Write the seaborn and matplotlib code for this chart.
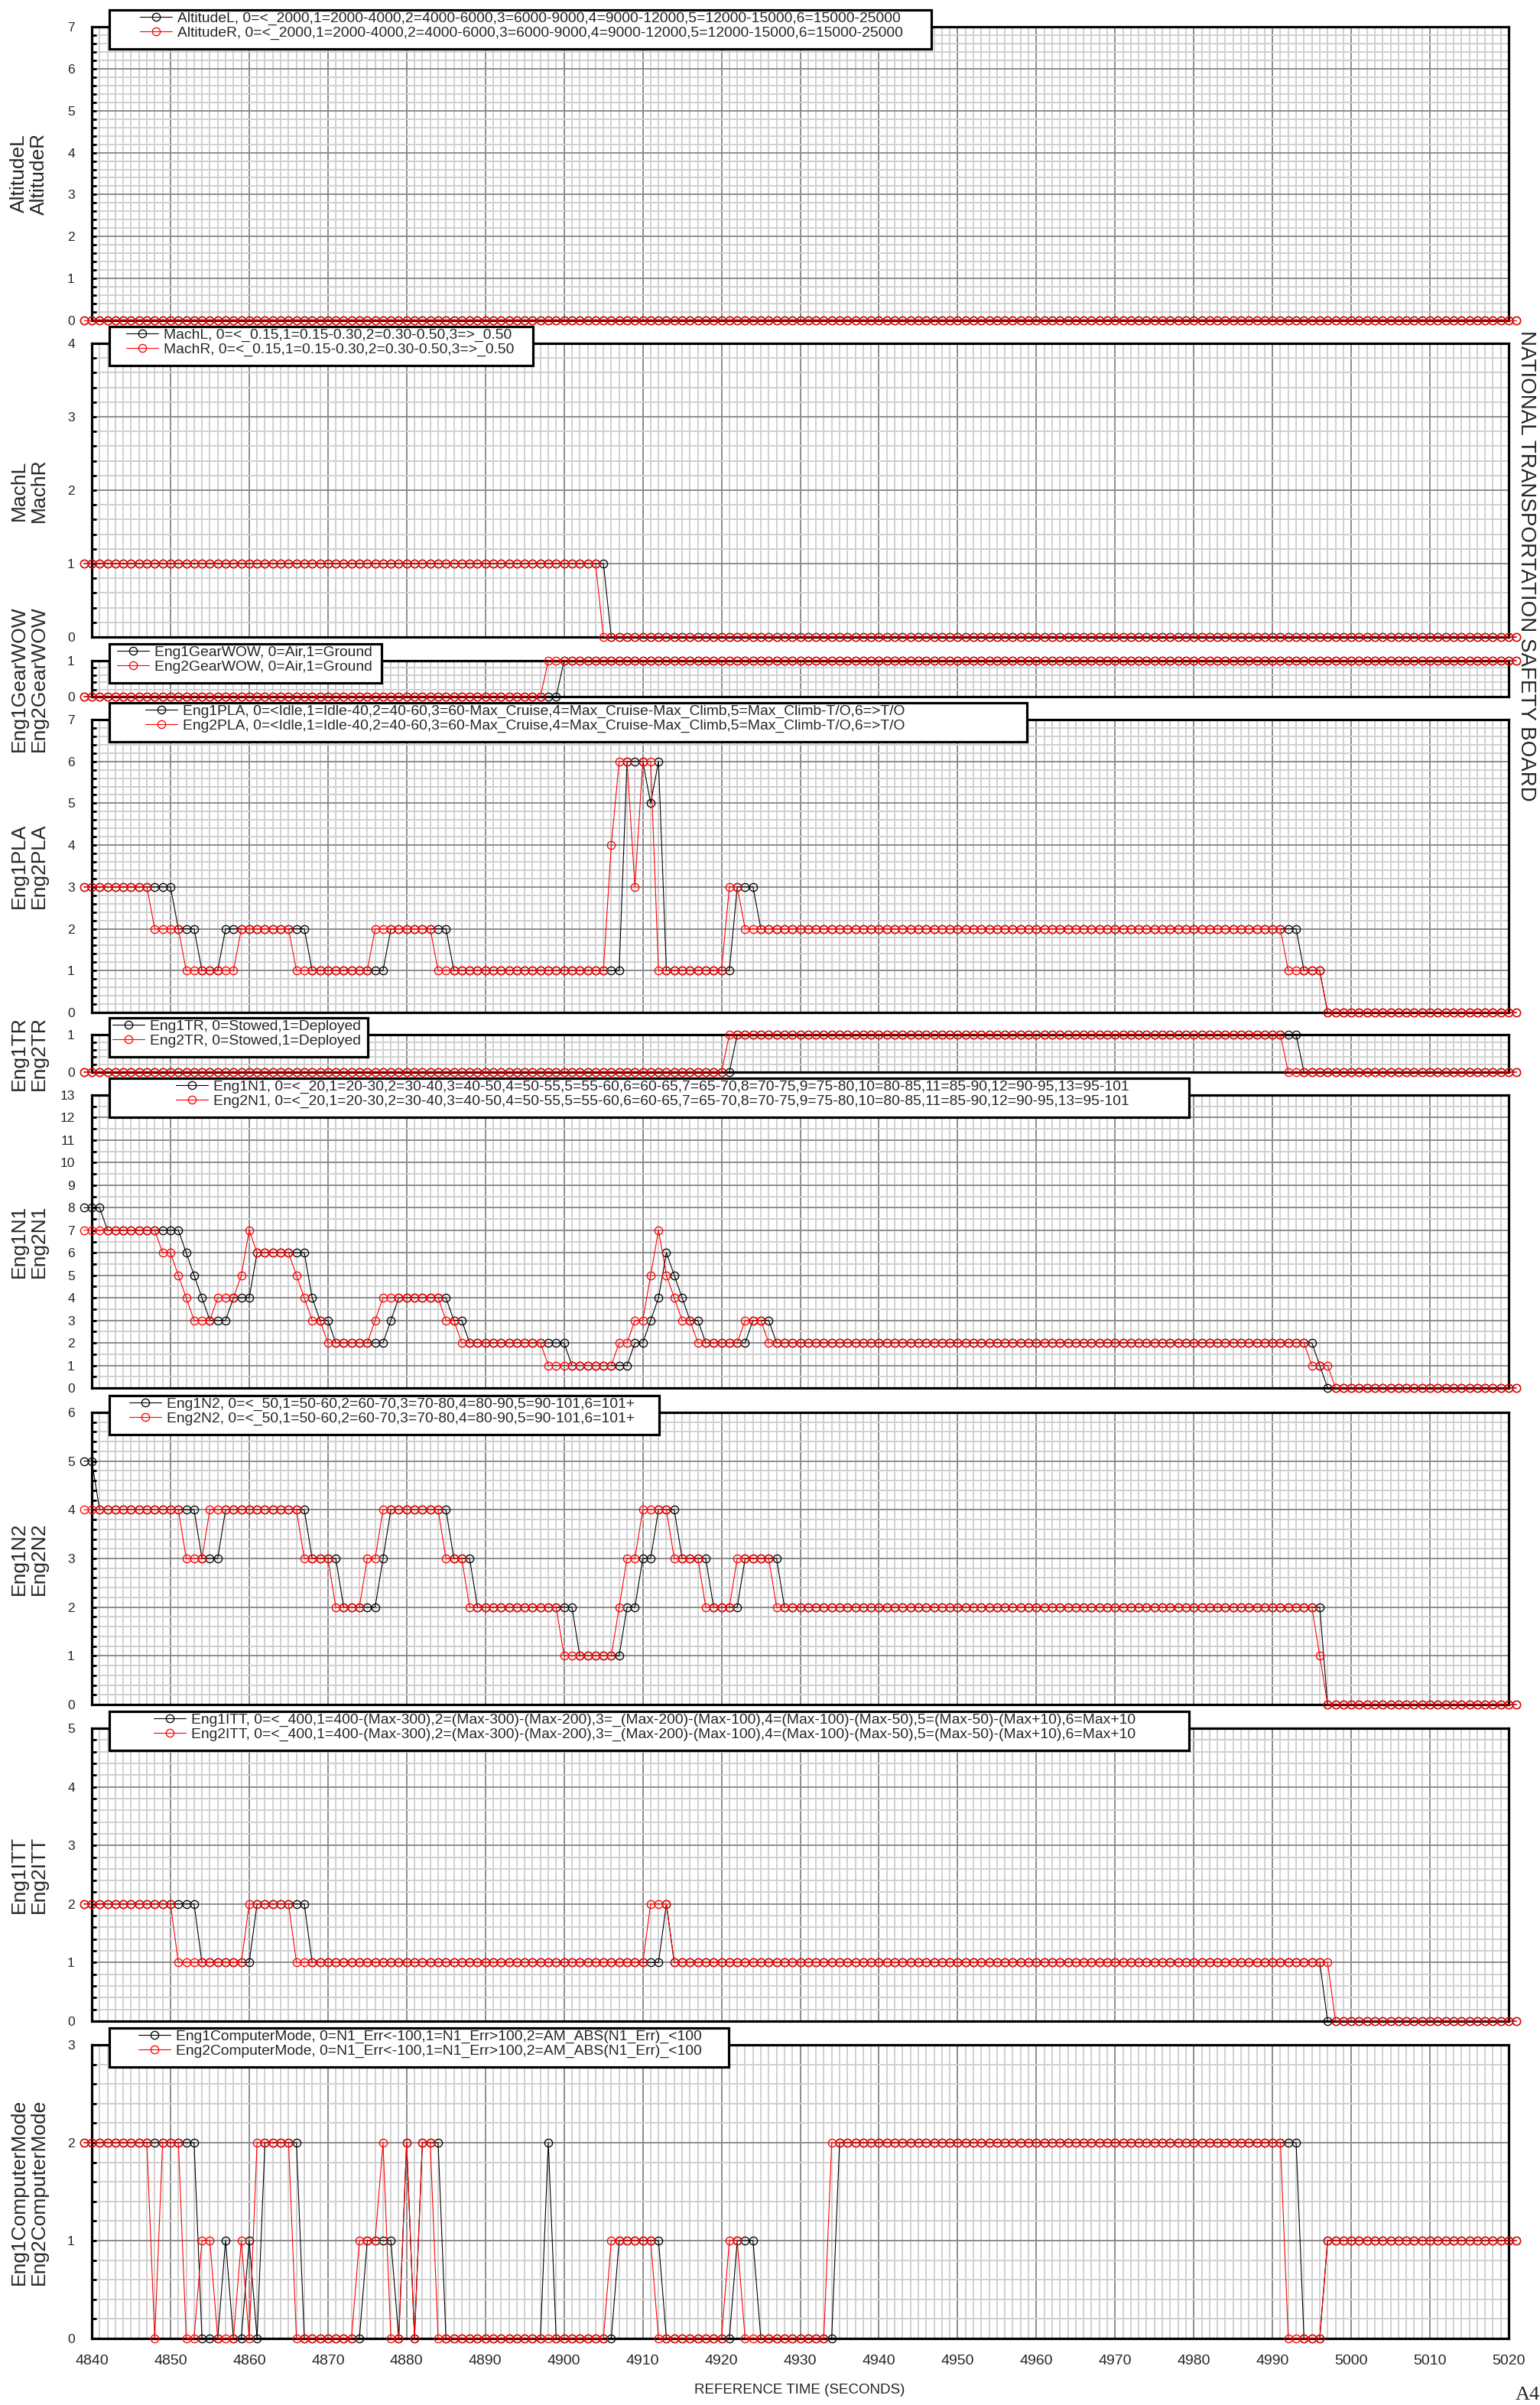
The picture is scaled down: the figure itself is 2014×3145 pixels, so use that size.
import numpy as np
import pandas as pd
import matplotlib
matplotlib.use("Agg")
import matplotlib.pyplot as plt
import seaborn as sns
from matplotlib.patches import Rectangle
from matplotlib.ticker import MultipleLocator

sns.set_style("white")
plt.rcParams['font.family'] = ['Liberation Sans', 'DejaVu Sans']

# ---------------- data (one value per second, 4839 .. 5021) ----------------
TIME = list(range(4839, 5022))
# groups:      4839 | 4840s    | 4850s    | 4860s    | 4870s    | 4880s    | 4890s    | 4900s    | 4910s    | 4920s    | 4930s    | 4940s    | 4950s    | 4960s    | 4970s    | 4980s    | 4990s    | 5000s    | 5010s    | 5020-21
ALT_L  = "0 0000000000 0000000000 0000000000 0000000000 0000000000 0000000000 0000000000 0000000000 0000000000 0000000000 0000000000 0000000000 0000000000 0000000000 0000000000 0000000000 0000000000 0000000000 00"
ALT_R  = "0 0000000000 0000000000 0000000000 0000000000 0000000000 0000000000 0000000000 0000000000 0000000000 0000000000 0000000000 0000000000 0000000000 0000000000 0000000000 0000000000 0000000000 0000000000 00"
MACH_L = "1 1111111111 1111111111 1111111111 1111111111 1111111111 1111111111 1111110000 0000000000 0000000000 0000000000 0000000000 0000000000 0000000000 0000000000 0000000000 0000000000 0000000000 0000000000 00"
MACH_R = "1 1111111111 1111111111 1111111111 1111111111 1111111111 1111111111 1111100000 0000000000 0000000000 0000000000 0000000000 0000000000 0000000000 0000000000 0000000000 0000000000 0000000000 0000000000 00"
WOW_L  = "0 0000000000 0000000000 0000000000 0000000000 0000000000 0000000000 1111111111 1111111111 1111111111 1111111111 1111111111 1111111111 1111111111 1111111111 1111111111 1111111111 1111111111 1111111111 11"
WOW_R  = "0 0000000000 0000000000 0000000000 0000000000 0000000000 0000000011 1111111111 1111111111 1111111111 1111111111 1111111111 1111111111 1111111111 1111111111 1111111111 1111111111 1111111111 1111111111 11"
PLA_L  = "3 3333333333 3222111222 2222222211 1111111122 2222221111 1111111111 1111111166 6561111111 1133322222 2222222222 2222222222 2222222222 2222222222 2222222222 2222222222 2222111000 0000000000 0000000000 00"
PLA_R  = "3 3333333322 2211111112 2222221111 1111112222 2222111111 1111111111 1111114663 6611111111 1332222222 2222222222 2222222222 2222222222 2222222222 2222222222 2222222222 2211111000 0000000000 0000000000 00"
TR_L   = "0 0000000000 0000000000 0000000000 0000000000 0000000000 0000000000 0000000000 0000000000 0011111111 1111111111 1111111111 1111111111 1111111111 1111111111 1111111111 1111000000 0000000000 0000000000 00"
TR_R   = "0 0000000000 0000000000 0000000000 0000000000 0000000000 0000000000 0000000000 0000000000 0111111111 1111111111 1111111111 1111111111 1111111111 1111111111 1111111111 1100000000 0000000000 0000000000 00"
N1_L   = "8 8877777777 7765433344 4666666643 3222222234 4444443322 2222222222 2111111112 2346543322 2222333222 2222222222 2222222222 2222222222 2222222222 2222222222 2222222222 2222221000 0000000000 0000000000 00"
N1_R   = "7 7777777776 6543334445 7666665433 2222223444 4444433222 2222222211 1111111223 3575433222 2223332222 2222222222 2222222222 2222222222 2222222222 2222222222 2222222222 2222211100 0000000000 0000000000 00"
N2_L   = "5 5444444444 4444333444 4444444433 3322222344 4444443332 2222222222 2211111122 3344433332 2223333322 2222222222 2222222222 2222222222 2222222222 2222222222 2222222222 2222222000 0000000000 0000000000 00"
N2_R   = "4 4444444444 4433344444 4444444333 3222233444 4444433322 2222222222 1111111233 4444333322 2233333222 2222222222 2222222222 2222222222 2222222222 2222222222 2222222222 2222221000 0000000000 0000000000 00"
ITT_L  = "2 2222222222 2222111111 1222222211 1111111111 1111111111 1111111111 1111111111 1112111111 1111111111 1111111111 1111111111 1111111111 1111111111 1111111111 1111111111 1111111000 0000000000 0000000000 00"
ITT_R  = "2 2222222222 2111111111 2222221111 1111111111 1111111111 1111111111 1111111111 1222111111 1111111111 1111111111 1111111111 1111111111 1111111111 1111111111 1111111111 1111111100 0000000000 0000000000 00"
CM_L   = "2 2222222222 2222000100 1022222000 0000011110 2022200000 0000000020 0000000111 1110000000 0011100000 0000022222 2222222222 2222222222 2222222222 2222222222 2222222222 2222000111 1111111111 1111111111 11"
CM_R   = "2 2222222202 2200110001 0222220000 0000111200 2022000000 0000000000 0000001111 1100000000 0110000000 0000222222 2222222222 2222222222 2222222222 2222222222 2222222222 2200000111 1111111111 1111111111 11"

YLABELS = ["AltitudeL\nAltitudeR", "MachL\nMachR", "Eng1GearWOW\nEng2GearWOW", "Eng1PLA\nEng2PLA",
           "Eng1TR\nEng2TR", "Eng1N1\nEng2N1", "Eng1N2\nEng2N2", "Eng1ITT\nEng2ITT",
           "Eng1ComputerMode\nEng2ComputerMode"]
LEG_L = ["AltitudeL, 0=<_2000,1=2000-4000,2=4000-6000,3=6000-9000,4=9000-12000,5=12000-15000,6=15000-25000",
         "MachL, 0=<_0.15,1=0.15-0.30,2=0.30-0.50,3=>_0.50",
         "Eng1GearWOW, 0=Air,1=Ground",
         "Eng1PLA, 0=<Idle,1=Idle-40,2=40-60,3=60-Max_Cruise,4=Max_Cruise-Max_Climb,5=Max_Climb-T/O,6=>T/O",
         "Eng1TR, 0=Stowed,1=Deployed",
         "Eng1N1, 0=<_20,1=20-30,2=30-40,3=40-50,4=50-55,5=55-60,6=60-65,7=65-70,8=70-75,9=75-80,10=80-85,11=85-90,12=90-95,13=95-101",
         "Eng1N2, 0=<_50,1=50-60,2=60-70,3=70-80,4=80-90,5=90-101,6=101+",
         "Eng1ITT, 0=<_400,1=400-(Max-300),2=(Max-300)-(Max-200),3=_(Max-200)-(Max-100),4=(Max-100)-(Max-50),5=(Max-50)-(Max+10),6=Max+10",
         "Eng1ComputerMode, 0=N1_Err<-100,1=N1_Err>100,2=AM_ABS(N1_Err)_<100"]
LEG_R = ["AltitudeR, 0=<_2000,1=2000-4000,2=4000-6000,3=6000-9000,4=9000-12000,5=12000-15000,6=15000-25000",
         "MachR, 0=<_0.15,1=0.15-0.30,2=0.30-0.50,3=>_0.50",
         "Eng2GearWOW, 0=Air,1=Ground",
         "Eng2PLA, 0=<Idle,1=Idle-40,2=40-60,3=60-Max_Cruise,4=Max_Cruise-Max_Climb,5=Max_Climb-T/O,6=>T/O",
         "Eng2TR, 0=Stowed,1=Deployed",
         "Eng2N1, 0=<_20,1=20-30,2=30-40,3=40-50,4=50-55,5=55-60,6=60-65,7=65-70,8=70-75,9=75-80,10=80-85,11=85-90,12=90-95,13=95-101",
         "Eng2N2, 0=<_50,1=50-60,2=60-70,3=70-80,4=80-90,5=90-101,6=101+",
         "Eng2ITT, 0=<_400,1=400-(Max-300),2=(Max-300)-(Max-200),3=_(Max-200)-(Max-100),4=(Max-100)-(Max-50),5=(Max-50)-(Max+10),6=Max+10",
         "Eng2ComputerMode, 0=N1_Err<-100,1=N1_Err>100,2=AM_ABS(N1_Err)_<100"]
SERIES_L = [ALT_L, MACH_L, WOW_L, PLA_L, TR_L, N1_L, N2_L, ITT_L, CM_L]
SERIES_R = [ALT_R, MACH_R, WOW_R, PLA_R, TR_R, N1_R, N2_R, ITT_R, CM_R]
YMAX = [7, 4, 1, 7, 1, 13, 6, 5, 3]
X_TICKS = [4840, 4850, 4860, 4870, 4880, 4890, 4900, 4910, 4920, 4930, 4940, 4950,
           4960, 4970, 4980, 4990, 5000, 5010, 5020]

# ---------------- layout (pixels) ----------------
W, H = 2015, 3145
AX_L, AX_R = 120, 1973
PANEL_TB = [(35, 419), (449, 833), (864, 911), (941, 1324), (1353, 1402),
            (1432, 1815), (1847, 2229), (2260, 2643), (2674, 3058)]
YMINOR = [5, 5, 5, 5, 5, 2, 5, 5, 5]
BOX_L = 143
BOX_R = [1218, 697, 499, 1343, 481, 1555, 862, 1555, 953]
HANDLE_X = [183, 165, 153, 190, 147, 230, 169, 201, 181]

def parse(s):
    return [int(c) for c in s.replace(" ", "")]

fig = plt.figure(figsize=(W / 100, H / 100), dpi=100)

for i in range(9):
    top, bot = PANEL_TB[i]
    ax = fig.add_axes([AX_L / W, 1 - bot / H, (AX_R - AX_L) / W, (bot - top) / H])
    for s, col, lab in [(SERIES_L[i], "black", LEG_L[i]), (SERIES_R[i], "red", LEG_R[i])]:
        df = pd.DataFrame({"t": TIME, "v": parse(s)})
        sns.lineplot(data=df, x="t", y="v", ax=ax, color=col, marker="o", markersize=7.4,
                     markerfacecolor="none", markeredgecolor=col, markeredgewidth=0.95,
                     linewidth=0.8, label=lab, legend=False, estimator=None,
                     clip_on=False, zorder=3)
    ax.set_xlim(4840, 5020)
    ax.set_ylim(0, YMAX[i])
    ax.xaxis.set_major_locator(MultipleLocator(10))
    ax.xaxis.set_minor_locator(MultipleLocator(1))
    ax.yaxis.set_major_locator(MultipleLocator(1))
    ax.yaxis.set_minor_locator(MultipleLocator(1 / YMINOR[i]))
    ax.set_axisbelow(True)
    ax.grid(which="minor", color="#d0d0d0", linewidth=1.4)
    ax.grid(which="major", color="#8c8c8c", linewidth=1.4)
    for sp in ax.spines.values():
        sp.set_visible(True)
        sp.set_color("black")
        sp.set_linewidth(2.3)
    ax.tick_params(axis="y", which="both", direction="in", length=4, width=2,
                   color="black", left=True, pad=16, labelsize=12.5)
    if i == 8:
        ax.set_xticks(X_TICKS)
        ax.tick_params(axis="x", which="both", length=0, pad=15, labelsize=14)
    else:
        ax.tick_params(axis="x", which="both", length=0, labelbottom=False)
    ax.set_xlabel("")
    ax.set_ylabel(YLABELS[i], fontsize=19, linespacing=1.1)
    ax.yaxis.set_label_coords(-0.0307, 0.5)

    # legend box and entries
    box_top = top - 22
    box_h = 51
    rect = Rectangle((BOX_L / W, 1 - (box_top + box_h) / H), (BOX_R[i] - BOX_L) / W, box_h / H,
                     transform=fig.transFigure, facecolor="white", edgecolor="black",
                     linewidth=2.3, zorder=10)
    fig.add_artist(rect)
    handles, labels = ax.get_legend_handles_labels()
    leg = fig.legend(handles, labels, loc="upper left",
                     bbox_to_anchor=(HANDLE_X[i] / W, 1 - (top - 20) / H),
                     bbox_transform=fig.transFigure, frameon=False, borderpad=0,
                     borderaxespad=0, handlelength=2.2, handletextpad=0.36,
                     labelspacing=0.08, fontsize=13.9)
    leg.set_zorder(11)

fig.text(1046 / W, 1 - 3125 / H, "REFERENCE TIME (SECONDS)", ha="center", va="center", fontsize=13.5)
fig.text(1996 / W, 1 - 740 / H, "NATIONAL TRANSPORTATION SAFETY BOARD", rotation=-90,
         ha="center", va="center", fontsize=20)
fig.text(1982 / W, 1 - 3138 / H, "A4", ha="left", va="baseline", fontsize=19,
         family=["Liberation Serif", "DejaVu Serif"])

fig.savefig("out.png", dpi=100)
